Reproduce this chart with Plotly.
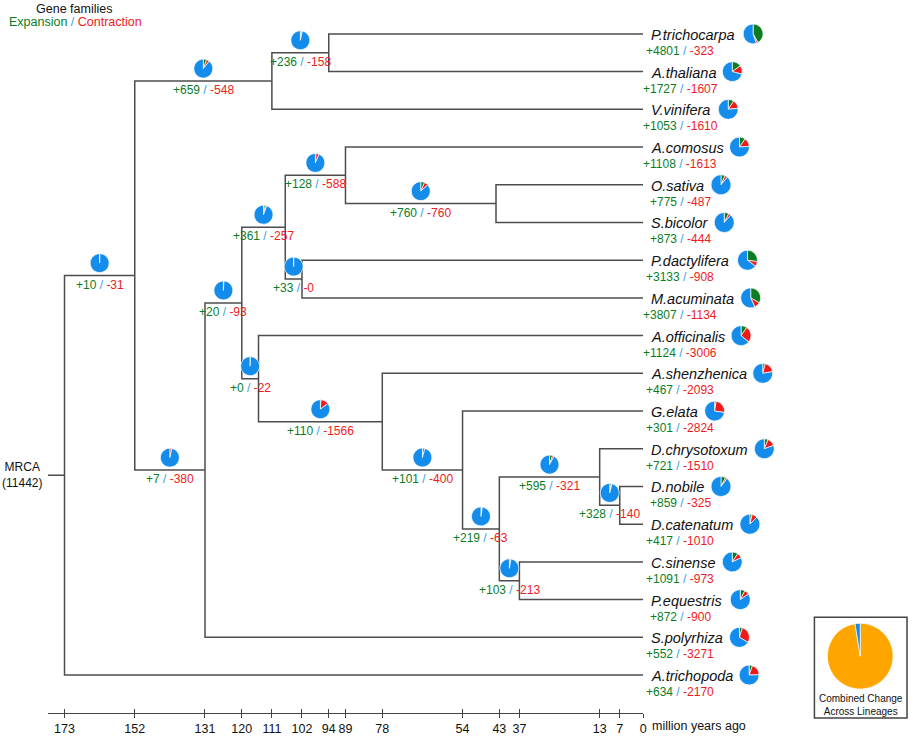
import plotly.graph_objects as go

# tips, listed top to bottom
tip_names = ["P.trichocarpa", "A.thaliana", "V.vinifera", "A.comosus", "O.sativa", "S.bicolor",
             "P.dactylifera", "M.acuminata", "A.officinalis", "A.shenzhenica", "G.elata",
             "D.chrysotoxum", "D.nobile", "D.catenatum", "C.sinense", "P.equestris",
             "S.polyrhiza", "A.trichopoda"]
tip_gain = [4801, 1727, 1053, 1108, 775, 873, 3133, 3807, 1124, 467, 301, 721, 859, 417, 1091, 872, 552, 634]
tip_loss = [323, 1607, 1610, 1613, 487, 444, 908, 1134, 3006, 2093, 2824, 1510, 325, 1010, 973, 900, 3271, 2170]

# internal nodes: age (Mya), children, gain/loss on the branch leading to the node
node_ids = ["root", "n152", "n111", "n94", "n131", "n120", "n107", "n89", "n44",
            "n102", "n115", "n78", "n54", "n43", "n13", "n7", "n37"]
node_ages = [173, 152, 111, 94, 131, 120, 107, 89, 44, 102, 115, 78, 54, 43, 13, 7, 37]
node_children = [
    ["n152", "A.trichopoda"],
    ["n111", "n131"],
    ["n94", "V.vinifera"],
    ["P.trichocarpa", "A.thaliana"],
    ["n120", "S.polyrhiza"],
    ["n107", "n115"],
    ["n89", "n102"],
    ["A.comosus", "n44"],
    ["O.sativa", "S.bicolor"],
    ["P.dactylifera", "M.acuminata"],
    ["A.officinalis", "n78"],
    ["A.shenzhenica", "n54"],
    ["G.elata", "n43"],
    ["n13", "n37"],
    ["D.chrysotoxum", "n7"],
    ["D.nobile", "D.catenatum"],
    ["C.sinense", "P.equestris"],
]
node_gain = [None, 10, 659, 236, 7, 20, 361, 128, 760, 33, 0, 110, 101, 219, 595, 328, 103]
node_loss = [None, 31, 548, 158, 380, 93, 257, 588, 760, 0, 22, 1566, 400, 63, 321, 140, 213]

total_families = 11442
tick_ages = [173, 152, 131, 120, 111, 102, 94, 89, 78, 54, 43, 37, 13, 7, 0]
combined_values = [97.5, 2.5]

# styling / layout
W, H, B = 913, 736, 21
PH = H - B
X_LEFT = 178
AX0, AX1 = 48, 646
ROW0, ROW = 34, 37.82
FONT = "Liberation Sans, Arial, sans-serif"
GREEN, RED, BLUE, SLASH, ORANGE = "#0b7d1f", "#f01a1a", "#138cec", "#3a9fe0", "#ffa500"
LINE = "#4d4d4d"

# Arial advance widths (1/1000 em), used to place the pies after the names
ARIAL = {"a": 556, "b": 556, "c": 500, "d": 556, "e": 556, "f": 278, "h": 556, "i": 222, "l": 222,
         "m": 833, "n": 556, "o": 556, "p": 556, "q": 556, "r": 333, "s": 500, "t": 278, "u": 556,
         "v": 500, "x": 500, "y": 500, "z": 500, ".": 278, "A": 667, "C": 722, "D": 722, "G": 778,
         "M": 833, "O": 778, "P": 667, "S": 667, "V": 667}


def px(age):
    return AX0 + (X_LEFT - age) / X_LEFT * (AX1 - AX0)


def py(idx):
    return ROW0 + ROW * idx


age = {n: 0 for n in tip_names}
ypos = {n: i for i, n in enumerate(tip_names)}
kids = {}
for nid, a, ch in zip(node_ids, node_ages, node_children):
    age[nid] = a
    kids[nid] = ch


def node_y(n):
    if n not in ypos:
        ypos[n] = sum(node_y(c) for c in kids[n]) / len(kids[n])
    return ypos[n]


node_y("root")
parent = {c: p for p in node_ids for c in kids[p]}

# branch lines
lx, ly = [X_LEFT, age["root"], None], [ypos["root"], ypos["root"], None]
for nid in node_ids:
    c1, c2 = kids[nid]
    lx += [age[c1], age[nid], age[nid], age[c2], None]
    ly += [ypos[c1], ypos[c1], ypos[c2], ypos[c2], None]

fig = go.Figure()
fig.add_trace(go.Scatter(x=lx, y=ly, mode="lines", line=dict(color=LINE, width=1.5),
                         hoverinfo="skip", showlegend=False))
fig.add_trace(go.Scatter(x=[None], y=[None], xaxis="x2", hoverinfo="skip", showlegend=False))


def add_pie(cx, cy, r, values, colors):
    fig.add_trace(go.Pie(values=values, sort=False, direction="clockwise", rotation=0,
                         marker=dict(colors=colors, line=dict(color="white", width=0.7)),
                         textinfo="none", hoverinfo="skip", showlegend=False,
                         domain=dict(x=[(cx - r) / W, (cx + r) / W],
                                     y=[1 - (cy + r) / PH, 1 - (cy - r) / PH])))


def change_text(g, l):
    return (f'<span style="color:{GREEN}">+{g}</span><span style="color:{SLASH}"> / </span>'
            f'<span style="color:{RED}">-{l}</span>')


annotations = []
pie_colors = [GREEN, RED, BLUE]

# internal branches
for nid, g, l in zip(node_ids, node_gain, node_loss):
    if g is None:
        continue
    mid = (age[parent[nid]] + age[nid]) / 2
    add_pie(px(mid), py(ypos[nid]) - 12.5, 9.5, [g, l, total_families - g - l], pie_colors)
    annotations.append(dict(x=mid, y=ypos[nid], xref="x", yref="y", text=change_text(g, l),
                            xanchor="center", yanchor="middle",
                            showarrow=False, yshift=-9, font=dict(size=12, family=FONT)))

# tips
for i, (name, g, l) in enumerate(zip(tip_names, tip_gain, tip_loss)):
    annotations.append(dict(x=0, y=i, xref="x", yref="y", text=f"<i>{name}</i>", xanchor="left",
                            yanchor="middle", xshift=6, yshift=-1, showarrow=False,
                            font=dict(size=14.5, family=FONT, color="#111")))
    annotations.append(dict(x=0, y=i, xref="x", yref="y", text=change_text(g, l), xshift=37,
                            xanchor="center", yanchor="middle",
                            yshift=-17, showarrow=False, font=dict(size=12, family=FONT)))
    name_w = sum(ARIAL.get(ch, 556) for ch in name) * 14.5 / 1000
    add_pie(px(0) + 6 + name_w + 19, py(i), 10, [g, l, total_families - g - l], pie_colors)

# combined change box
add_pie(864, 658, 33, combined_values, [ORANGE, BLUE])
annotations.append(dict(x=865 / W, y=1 - 707 / PH, xref="paper", yref="paper",
                        xanchor="center", yanchor="middle",
                        text="Combined Change<br>Across Lineages", showarrow=False,
                        font=dict(size=10, family=FONT, color="#111")))

annotations += [
    dict(x=X_LEFT, y=ypos["root"], xref="x", yref="y", text="MRCA<br>(11442)", xanchor="right",
         yanchor="middle", xshift=-4, showarrow=False, font=dict(size=12, family=FONT, color="#111")),
    dict(x=0, y=0, xref="x", yref="paper", text="million years ago", xanchor="left",
         yanchor="middle", xshift=7, yshift=-13, showarrow=False,
         font=dict(size=12.5, family=FONT, color="#111")),
    dict(x=74 / W, y=1 - 9 / PH, xref="paper", yref="paper", text="Gene families",
         xanchor="center", yanchor="middle",
         showarrow=False, font=dict(size=12.5, family=FONT, color="#111")),
    dict(x=76 / W, y=1 - 22 / PH, xref="paper", yref="paper",
         xanchor="center", yanchor="middle",
         text=(f'<span style="color:{GREEN}">Expansion</span><span style="color:{SLASH}"> / </span>'
               f'<span style="color:{RED}">Contraction</span>'),
         showarrow=False, font=dict(size=12.5, family=FONT)),
]

axis_common = dict(domain=[AX0 / W, AX1 / W], range=[X_LEFT, 0], tickvals=tick_ages,
                   showgrid=False, zeroline=False, tickcolor="#444", tickwidth=1.2, ticklen=4)
fig.update_layout(
    width=W, height=H, margin=dict(l=0, r=0, t=0, b=B),
    paper_bgcolor="white", plot_bgcolor="white",
    font=dict(family=FONT, color="#111"),
    xaxis=dict(**axis_common, ticks="outside", showline=True, linecolor="#444", linewidth=1.3,
               tickfont=dict(size=12.5, family=FONT, color="#111")),
    xaxis2=dict(**axis_common, overlaying="x", anchor="y", ticks="inside", showticklabels=False,
                showline=False),
    yaxis=dict(range=[(PH - ROW0) / ROW, -ROW0 / ROW], visible=False),
    shapes=[dict(type="rect", xref="paper", yref="paper", x0=818 / W, x1=911 / W,
                 y0=1 - 720 / PH, y1=1 - 619 / PH, line=dict(color="#444", width=1.5))],
    annotations=annotations,
)
# the page's default body margin would push the fixed-size figure off by 8px
fig.write_html("out.html", config={"displayModeBar": False},
               post_script="document.body.style.margin='0';")
